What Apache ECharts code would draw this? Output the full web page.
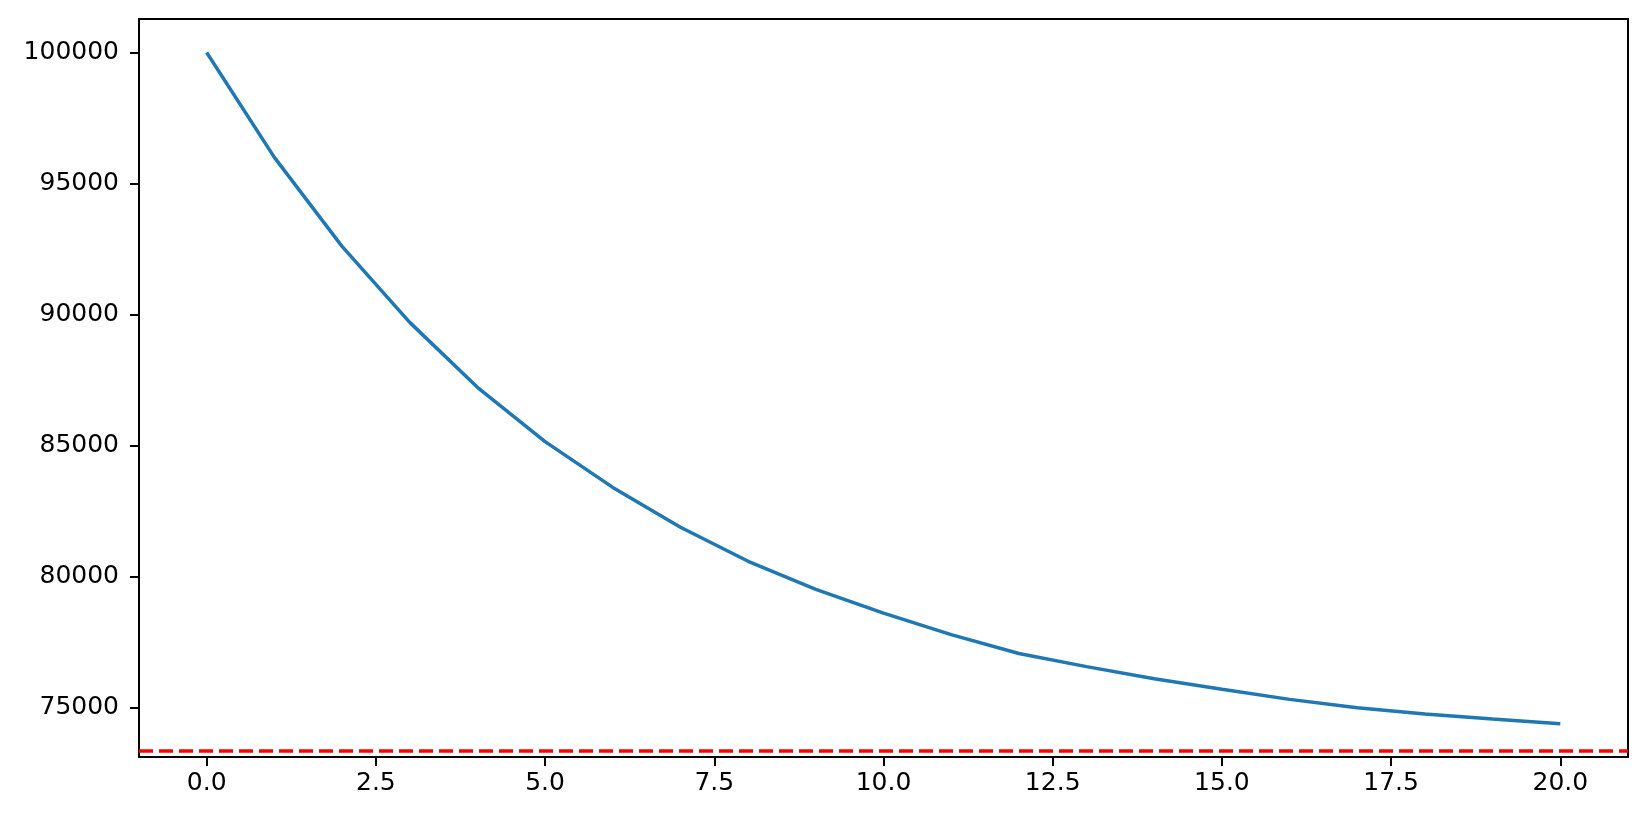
<!DOCTYPE html>
<html>
<head>
<meta charset="utf-8">
<script src="https://cdn.jsdelivr.net/npm/echarts@6/dist/echarts.min.js"></script>
<style>
  html, body { margin: 0; padding: 0; background: #fff; }
  #chart { width: 1646px; height: 822px; }
</style>
</head>
<body>
<div id="chart"></div>
<script>
// steps 0..20
var steps = [0, 1, 2, 3, 4, 5, 6, 7, 8, 9, 10, 11, 12, 13, 14, 15, 16, 17, 18, 19, 20];
var values = [100000, 96000, 92600, 89700, 87220, 85150, 83400, 81880, 80580, 79510,
              78600, 77780, 77060, 76560, 76100, 75700, 75310, 74990, 74750, 74560, 74380];
var limitValue = 73330;

var xTicks = [0, 2.5, 5, 7.5, 10, 12.5, 15, 17.5, 20];
var yTicks = [75000, 80000, 85000, 90000, 95000, 100000];

var myChart = echarts.init(document.getElementById('chart'));

var labelFont = {
    fontFamily: 'DejaVu Sans',
    fontSize: 25,
    color: '#000'
};

var option = {
    backgroundColor: '#fff',
    animation: false,
    grid: {
        left: 139,
        right: 18,
        top: 19,
        bottom: 65,
        show: true,
        borderColor: '#000',
        borderWidth: 2
    },
    xAxis: {
        type: 'value',
        min: -1,
        max: 21,
        axisLine: { show: true, onZero: false, lineStyle: { color: '#000', width: 2 } },
        axisTick: { show: true, length: 9, lineStyle: { color: '#000', width: 2 }, customValues: xTicks },
        axisLabel: Object.assign({
            margin: 14,
            customValues: xTicks,
            formatter: function (v) { return v.toFixed(1); }
        }, labelFont),
        splitLine: { show: false }
    },
    yAxis: {
        type: 'value',
        min: 73110,
        max: 101280,
        axisLine: { show: true, onZero: false, lineStyle: { color: '#000', width: 2 } },
        axisTick: { show: true, length: 9, lineStyle: { color: '#000', width: 2 }, customValues: yTicks },
        axisLabel: Object.assign({
            margin: 20,
            customValues: yTicks,
            formatter: function (v) { return String(v); }
        }, labelFont),
        splitLine: { show: false }
    },
    series: [{
        type: 'line',
        data: steps.map(function (s, i) { return [s, values[i]]; }),
        showSymbol: false,
        lineStyle: { color: '#1f77b4', width: 3.5 },
        itemStyle: { color: '#1f77b4' },
        markLine: {
            silent: true,
            symbol: ['none', 'none'],
            label: { show: false },
            lineStyle: { color: '#ff0000', width: 3.5, type: [14, 6] },
            data: [{ yAxis: limitValue }]
        }
    }]
};

myChart.setOption(option);
</script>
</body>
</html>
